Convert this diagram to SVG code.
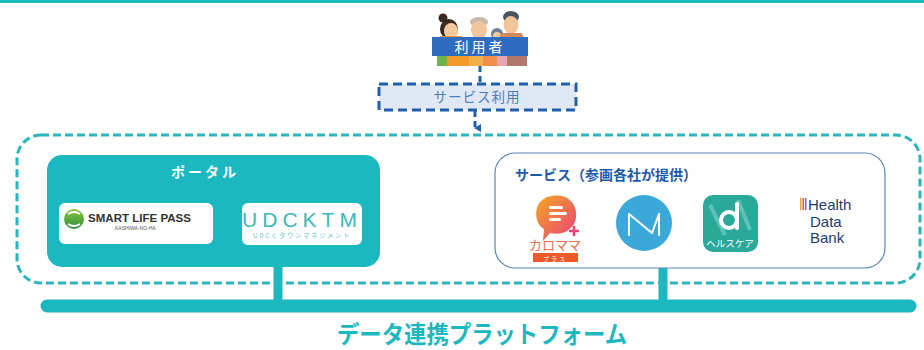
<svg xmlns="http://www.w3.org/2000/svg" width="924" height="350" viewBox="0 0 924 350">
  <defs>
    <style>
      .jp { font-family: "Noto Sans CJK JP", "Noto Sans", sans-serif; }
      .lat { font-family: "Liberation Sans", Arial, sans-serif; }
      .teal { fill: #1cb8c0; }
      .tealline { stroke: #1cb8c0; fill: none; }
    </style>
    <marker id="arrowDown" markerWidth="8" markerHeight="8" refX="4" refY="6" orient="auto" markerUnits="userSpaceOnUse">
      <path d="M0,0 L8,0 L4,7 Z" fill="#1f5fae"/>
    </marker>
    <linearGradient id="karoGrad" x1="0" y1="0" x2="1" y2="1">
      <stop offset="0" stop-color="#f6a623"/>
      <stop offset="1" stop-color="#e8407a"/>
    </linearGradient>
    <linearGradient id="slpGrad" x1="0" y1="0" x2="0" y2="1">
      <stop offset="0" stop-color="#8cc63f"/>
      <stop offset="1" stop-color="#2e8b3a"/>
    </linearGradient>
  </defs>

  <rect width="924" height="350" fill="#ffffff"/>
  <!-- top rule -->
  <rect x="0" y="0" width="924" height="3" class="teal"/>

  <!-- connectors -->
  <g id="connectors">
    <line x1="480" y1="66" x2="480" y2="82" stroke="#1f5fae" stroke-width="3" stroke-dasharray="6 4"/>
    <line x1="475" y1="111" x2="475" y2="128" stroke="#1f5fae" stroke-width="3" stroke-dasharray="6 4" marker-end="url(#arrowDown)"/>
    <line x1="278" y1="266" x2="278" y2="302" class="tealline" stroke-width="9"/>
    <line x1="663" y1="268" x2="663" y2="302" class="tealline" stroke-width="9"/>
  </g>

  <!-- users -->
  <g id="users">
    <!-- woman -->
    <circle cx="443" cy="18" r="4.5" fill="#3a2a20"/>
    <ellipse cx="449" cy="29" rx="9" ry="10" fill="#3a2a20"/>
    <ellipse cx="451" cy="31" rx="7" ry="8" fill="#f5c9a0"/>
    <rect x="440" y="36" width="22" height="4" fill="#f39a2b"/>
    <!-- old man -->
    <ellipse cx="479" cy="22" rx="9" ry="5" fill="#c8bba5"/>
    <ellipse cx="479" cy="30" rx="8" ry="9" fill="#f1c59d"/>
    <!-- child -->
    <circle cx="497" cy="34" r="6" fill="#6b7f95"/>
    <circle cx="497" cy="36" r="4" fill="#f3c8a0"/>
    <!-- man -->
    <ellipse cx="511" cy="17" rx="8" ry="6" fill="#4a5560"/>
    <ellipse cx="511" cy="25" rx="7.5" ry="9" fill="#f3c39a"/>
    <rect x="500" y="33" width="23" height="6" rx="3" fill="#d08a5a"/>
    <!-- clothing strip -->
    <rect x="437" y="56" width="10" height="10" fill="#6fb34a"/>
    <rect x="447" y="56" width="22" height="10" fill="#f39a2b"/>
    <rect x="469" y="56" width="14" height="10" fill="#f1b04a"/>
    <rect x="483" y="56" width="14" height="10" fill="#f08f4a"/>
    <rect x="497" y="56" width="10" height="10" fill="#e8a5b0"/>
    <rect x="507" y="56" width="20" height="10" fill="#b0786a"/>
    <rect x="432" y="37" width="96" height="19" fill="#2e6cc0"/>
    <text x="480" y="52" text-anchor="middle" class="jp" font-size="14" fill="#ffffff" letter-spacing="3">利用者</text>
  </g>

  <!-- service usage -->
  <g id="service-use">
    <rect x="379" y="84" width="197" height="26" fill="#dfe8f3" stroke="#1f5fae" stroke-width="3" stroke-dasharray="9 5"/>
    <text x="477" y="102" text-anchor="middle" class="jp" font-size="13.5" fill="#4c7fc0" letter-spacing="1">サービス利用</text>
  </g>

  <!-- outer dashed frame -->
  <g id="frame">
    <rect x="17" y="135" width="903" height="148" rx="24" fill="none" stroke="#2bb5bd" stroke-width="3" stroke-dasharray="8 4"/>
  </g>

  <!-- portal -->
  <g id="portal">
    <rect x="47" y="155" width="333" height="112" rx="15" class="teal"/>
    <text x="205" y="177" text-anchor="middle" class="jp" font-size="14" font-weight="bold" fill="#ffffff" letter-spacing="3">ポータル</text>
    <rect x="59" y="203" width="154" height="41" rx="6" fill="#ffffff"/>
    <g id="slp-logo">
      <circle cx="74" cy="219" r="10" fill="url(#slpGrad)"/>
      <path d="M68,214 Q74,210 80,214 M68,224 Q74,228 80,224" stroke="#ffffff" stroke-width="2" fill="none"/>
      <text x="88" y="222" class="lat" font-size="11" font-weight="bold" fill="#333333" textLength="103" lengthAdjust="spacingAndGlyphs">SMART LIFE PASS</text>
      <text x="115" y="230" class="lat" font-size="5" fill="#555555">KASHIWA-NO-HA</text>
    </g>
    <rect x="242" y="203" width="120" height="42" rx="6" fill="#ffffff"/>
    <text x="302" y="227" text-anchor="middle" class="lat" font-size="21" fill="#3fb6bd" letter-spacing="5">UDCKTM</text>
    <text x="302" y="238" text-anchor="middle" class="jp" font-size="6.5" fill="#6ec6cb" letter-spacing="1.5">UDCくタウンマネジメント</text>
  </g>

  <!-- services -->
  <g id="services">
    <rect x="495" y="153" width="390" height="115" rx="20" fill="#ffffff" stroke="#5a86b8" stroke-width="1.2"/>
    <text x="515" y="180" class="jp" font-size="14" font-weight="bold" fill="#1a5aa8">サービス（参画各社が提供）</text>

    <g id="karomama">
      <path d="M552,196 C568,193 578,205 576,218 C574,230 562,236 550,233 L543,241 L544,229 C535,224 534,209 540,202 C544,198 548,196 552,196 Z" fill="url(#karoGrad)"/>
      <rect x="549" y="206" width="14" height="3" rx="1.5" fill="#ffffff"/>
      <rect x="549" y="212" width="18" height="3" rx="1.5" fill="#ffffff"/>
      <rect x="549" y="218" width="12" height="3" rx="1.5" fill="#ffffff"/>
      <path d="M574,226 v10 M569,231 h10" stroke="#e8407a" stroke-width="2.5"/>
      <text x="555" y="250" text-anchor="middle" class="jp" font-size="13" fill="#ec6a4a">カロママ</text>
      <rect x="533" y="253" width="45" height="9" fill="#ec5a2a"/>
      <text x="555" y="260.5" text-anchor="middle" class="jp" font-size="6" fill="#ffffff" letter-spacing="2">プラス</text>
    </g>

    <g id="m-app">
      <circle cx="644" cy="223" r="28" fill="#3aa8d8"/>
      <path d="M629,235 L629,214 L652,233 L659,214 L659,235" stroke="#ffffff" stroke-width="2" fill="none" stroke-linejoin="round" stroke-linecap="round"/>
    </g>

    <g id="d-healthcare">
      <rect x="703" y="195" width="55" height="57" rx="10" fill="#2aa89a"/>
      <path d="M710,205 L725,235 M738,200 L750,230" stroke="#5cc4b7" stroke-width="4" fill="none"/>
      <circle cx="729" cy="220" r="8" fill="none" stroke="#ffffff" stroke-width="4"/>
      <line x1="737" y1="204" x2="737" y2="228" stroke="#ffffff" stroke-width="4" stroke-linecap="round"/>
      <text x="730" y="247" text-anchor="middle" class="jp" font-size="9.5" fill="#ffffff">ヘルスケア</text>
    </g>

    <g id="health-data-bank">
      <rect x="800" y="198" width="1.5" height="12" fill="#f0a030"/>
      <rect x="802.5" y="198" width="1.5" height="12" fill="#e84a6a"/>
      <rect x="805" y="198" width="1.5" height="12" fill="#8a5ac8"/>
      <text x="808" y="210" class="lat" font-size="15" fill="#1f3a6e">Health</text>
      <text x="810" y="227" class="lat" font-size="15" fill="#1f3a6e">Data</text>
      <text x="810" y="243" class="lat" font-size="15" fill="#1f3a6e">Bank</text>
    </g>
  </g>

  <!-- data platform -->
  <g id="platform">
    <line x1="47" y1="306" x2="910" y2="306" class="tealline" stroke-width="13" stroke-linecap="round"/>
    <text x="482" y="343" text-anchor="middle" class="jp" font-size="24" font-weight="bold" fill="#1cb8c0" textLength="290" lengthAdjust="spacingAndGlyphs">データ連携プラットフォーム</text>
  </g>
</svg>
